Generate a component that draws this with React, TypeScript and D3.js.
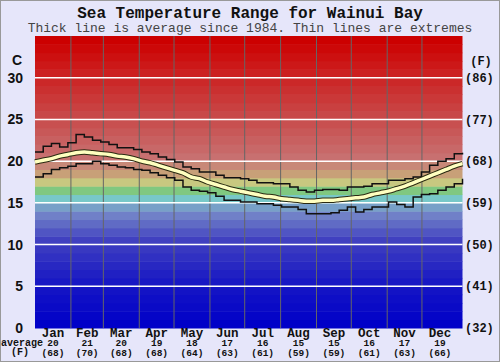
import React from "react";
import * as d3 from "d3";

// monthly labels along the bottom
const months = ["Jan", "Feb", "Mar", "Apr", "May", "Jun", "Jul", "Aug", "Sep", "Oct", "Nov", "Dec"];
const monthAvgC = [20, 21, 20, 19, 18, 17, 16, 15, 15, 16, 17, 19];
const monthAvgF = [68, 70, 68, 68, 64, 63, 61, 59, 59, 61, 63, 66];
const monthStartDays = [0, 31, 59, 90, 120, 151, 181, 212, 243, 273, 304, 334, 365];

// axis ticks
const celsiusTicks = [0, 5, 10, 15, 20, 25, 30];
const fahrenheitTicks = [32, 41, 50, 59, 68, 77, 86];

// weekly values (°C)
const avgTemps = [
  19.9, 20.1, 20.3, 20.6, 20.8, 21.0, 21.1, 21.0, 20.9, 20.8, 20.6, 20.5, 20.3, 20.0,
  19.8, 19.5, 19.2, 18.9, 18.6, 18.1, 17.9, 17.5, 17.2, 16.9, 16.6, 16.4, 16.2, 16.0,
  15.8, 15.7, 15.5, 15.4, 15.3, 15.2, 15.2, 15.3, 15.3, 15.4, 15.5, 15.6, 15.7, 16.0,
  16.2, 16.4, 16.7, 17.0, 17.4, 17.8, 18.2, 18.6, 19.0, 19.4, 19.7,
];
const maxTemps = [
  21.1, 21.8, 22.1, 21.7, 22.2, 23.2, 22.9, 22.5, 22.3, 22.0, 21.6, 21.6, 21.4, 21.1,
  20.9, 20.5, 20.2, 19.9, 19.3, 19.1, 18.7, 18.7, 18.3, 18.0, 18.0, 17.9, 17.7, 17.4,
  17.4, 17.3, 17.3, 16.9, 16.5, 16.3, 16.5, 16.6, 16.6, 16.5, 16.9, 16.9, 17.0, 17.3,
  17.3, 17.7, 17.7, 17.9, 18.1, 18.7, 19.5, 20.0, 20.3, 20.9, 21.0,
];
const minTemps = [
  18.1, 18.5, 19.0, 19.2, 19.4, 19.7, 19.7, 20.0, 19.7, 19.5, 19.3, 19.2, 19.0, 18.9,
  18.6, 18.3, 18.0, 17.7, 16.9, 16.5, 16.4, 16.2, 15.8, 15.3, 15.3, 15.1, 15.1, 14.9,
  14.9, 14.7, 14.5, 14.5, 14.2, 13.7, 13.7, 13.7, 13.8, 14.1, 14.5, 13.9, 14.2, 14.5,
  14.5, 15.1, 14.8, 14.5, 15.7, 16.0, 16.1, 16.5, 16.9, 17.3, 17.9,
];

const W = 500;
const H = 362;
const plot = { left: 35, right: 462.5, top: 36, bottom: 328 };
const mono = "'Liberation Mono', 'Courier New', monospace";
const sans = "'Liberation Sans', Arial, sans-serif";

export default function App() {
  const y = d3.scaleLinear().domain([0, 35]).range([plot.bottom, plot.top]);
  const xDay = d3.scaleLinear().domain([0, 369]).range([plot.left, plot.right]);
  const xWeek = d3.scaleLinear().domain([0, avgTemps.length - 1]).range([plot.left, plot.right]);

  // background colour per 1°C band
  const bandColor = d3
    .scaleLinear<string>()
    .domain([0, 5, 10, 13, 14, 15, 16, 17, 18, 19, 20, 25, 30, 34])
    .range([
      "#0000c8", "#1818c4", "#4040c0", "#7080c8", "#78a0c8", "#78c8c8", "#80c880",
      "#c8c880", "#c8a078", "#c88878", "#c87070", "#c84848", "#cc2020", "#cc0000",
    ])
    .clamp(true);
  const bands = d3.range(0, 35);

  const stepLine = d3
    .line<number>()
    .x((_, i) => xWeek(i))
    .y((d) => y(d))
    .curve(d3.curveStepAfter);
  const smoothLine = d3
    .line<number>()
    .x((_, i) => xWeek(i))
    .y((d) => y(d))
    .curve(d3.curveMonotoneX);

  return (
    <svg width={W} height={H} style={{ position: "absolute", left: 0, top: 0 }}>
      <rect x={0} y={0} width={W} height={H} fill="#e6e6fa" />
      <rect x={0.5} y={0.5} width={W - 1} height={H - 1} fill="none" stroke="#999" />

      <text x={W / 2} y={18} textAnchor="middle" fontFamily={mono} fontWeight="bold" fontSize={16} fill="#111">
        Sea Temperature Range for Wainui Bay
      </text>
      <text x={W / 2} y={32} textAnchor="middle" fontFamily={mono} fontSize={13} fill="#444">
        Thick line is average since 1984. Thin lines are extremes
      </text>

      {/* colour bands */}
      {bands.map((b) => (
        <rect
          key={b}
          x={plot.left}
          y={y(b + 1)}
          width={plot.right - plot.left}
          height={y(b) - y(b + 1) + 0.5}
          fill={bandColor(b)}
        />
      ))}

      {/* month grid */}
      {monthStartDays.slice(1, 12).map((d) => (
        <line key={d} x1={xDay(d)} x2={xDay(d)} y1={plot.top} y2={plot.bottom} stroke="#666" strokeWidth={1} />
      ))}

      {/* white lines at ticks */}
      {celsiusTicks.slice(1).map((t) => (
        <line key={t} x1={plot.left} x2={plot.right} y1={y(t)} y2={y(t)} stroke="#fff" strokeWidth={1.5} />
      ))}

      {/* extremes */}
      <path d={stepLine(maxTemps) ?? ""} fill="none" stroke="#111" strokeWidth={1.5} />
      <path d={stepLine(minTemps) ?? ""} fill="none" stroke="#111" strokeWidth={1.5} />

      {/* average */}
      <path d={smoothLine(avgTemps) ?? ""} fill="none" stroke="#2a2a10" strokeWidth={5.5} />
      <path d={smoothLine(avgTemps) ?? ""} fill="none" stroke="#ffffc0" strokeWidth={3.5} />

      {/* left axis */}
      <text x={17} y={65} textAnchor="middle" fontFamily={sans} fontWeight="bold" fontSize={14} fill="#111">
        C
      </text>
      {celsiusTicks.map((t) => (
        <text key={t} x={23} y={y(t)} dy="0.36em" textAnchor="end" fontFamily={sans} fontWeight="bold" fontSize={14} fill="#111">
          {t}
        </text>
      ))}

      {/* right axis */}
      <text x={481} y={61} dy="0.35em" textAnchor="middle" fontFamily={mono} fontWeight="bold" fontSize={12} fill="#111">
        (F)
      </text>
      {fahrenheitTicks.map((f, i) => (
        <text key={f} x={465} y={y(celsiusTicks[i])} dy="0.35em" fontFamily={mono} fontWeight="bold" fontSize={12} fill="#111">
          ({f})
        </text>
      ))}

      {/* bottom labels */}
      <text x={22} y={346} textAnchor="middle" fontFamily={mono} fontWeight="bold" fontSize={10} fill="#111">
        average
      </text>
      <text x={20} y={355} textAnchor="middle" fontFamily={mono} fontWeight="bold" fontSize={10} fill="#111">
        (F)
      </text>
      {months.map((m, i) => {
        const cx = xDay((monthStartDays[i] + monthStartDays[i + 1]) / 2);
        return (
          <g key={m} transform={`translate(${cx},0)`} fontFamily={mono} fontWeight="bold" textAnchor="middle" fill="#111">
            <text y={336.5} fontSize={12.5}>{m}</text>
            <text y={346} fontSize={9.5}>{monthAvgC[i]}</text>
            <text y={355.5} fontSize={9.5}>({monthAvgF[i]})</text>
          </g>
        );
      })}
    </svg>
  );
}
